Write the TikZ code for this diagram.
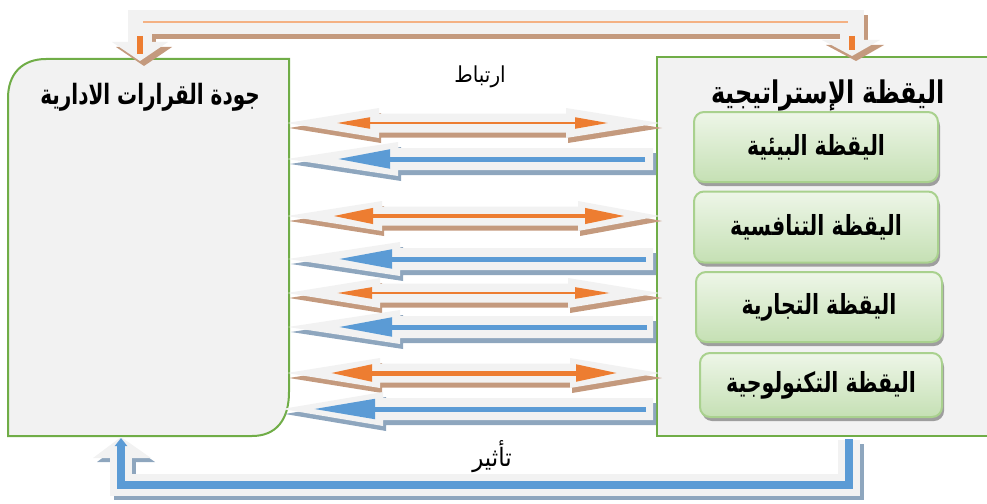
\documentclass[tikz,border=0pt]{standalone}
\usepackage{fontspec}
\usepackage{graphicx}
\newfontfamily\arabicfont[Script=Arabic]{DejaVu Sans}
\TeXXeTstate=1
\usetikzlibrary{shadows,arrows.meta}
\definecolor{boxfill}{HTML}{F2F2F2}
\definecolor{grn}{HTML}{70AD47}
\definecolor{lgrn}{HTML}{A9D18E}
\definecolor{gtop}{HTML}{EEF6E8}
\definecolor{gbot}{HTML}{C5E0B4}
\definecolor{org}{HTML}{ED7D31}
\definecolor{porg}{HTML}{F4B183}
\definecolor{blu}{HTML}{5B9BD5}
\definecolor{brn}{HTML}{C49A7E}
\definecolor{bgr}{HTML}{8EA6BE}
\definecolor{band}{HTML}{F2F2F2}
\newcommand\fatdbl[3]{%
  \fill[brn,shift={(2,5)}] (287,#1) -- (#2,#1-15) -- (#2,#1-9.5) -- (#3,#1-9.5) -- (#3,#1-15) -- (660,#1) -- (#3,#1+15) -- (#3,#1+9.5) -- (#2,#1+9.5) -- (#2,#1+15) -- cycle;
  \fill[band] (287,#1) -- (#2,#1-15) -- (#2,#1-9.5) -- (#3,#1-9.5) -- (#3,#1-15) -- (660,#1) -- (#3,#1+15) -- (#3,#1+9.5) -- (#2,#1+9.5) -- (#2,#1+15) -- cycle;}
\newcommand\fatlft[3]{%
  \fill[bgr,shift={(3,5)}] (#3,#1) -- (#2,#1-17) -- (#2,#1-11) -- (653,#1-11) -- (653,#1+11) -- (#2,#1+11) -- (#2,#1+17) -- cycle;
  \fill[band] (#3,#1) -- (#2,#1-17) -- (#2,#1-11) -- (653,#1-11) -- (653,#1+11) -- (#2,#1+11) -- (#2,#1+17) -- cycle;}
\tikzset{
  bigbox/.style={fill=boxfill, draw=grn, line width=2pt},
  greenbox/.style={draw=lgrn, line width=2pt, rounded corners=10pt, top color=gtop, bottom color=gbot,
    drop shadow={shadow xshift=2pt, shadow yshift=-4pt, fill=black!38, opacity=1},
    minimum width=244pt, minimum height=70pt, font=\arabicfont\bfseries\fontsize{20.5}{22}\selectfont},
  title/.style={font=\arabicfont\bfseries\fontsize{#1}{22}\selectfont},
  lbl/.style={font=\arabicfont\fontsize{#1}{22}\selectfont},
  oarr/.style={draw=org, line width=#1},
  barr/.style={draw=blu, line width=5pt}
}
\begin{document}
\begin{tikzpicture}[x=1pt,y=-1pt]
\useasboundingbox (0,0) rectangle (987,503);
% boxes
\draw[bigbox] (8,436) -- (8,98) .. controls (8,74) and (22,59) .. (46,59) -- (289,59) -- (289,392) .. controls (289,420) and (276,436) .. (252,436) -- cycle;
\draw[bigbox] (1000,57) -- (657,57) -- (657,436) -- (1000,436);
\node[title=20] (lt) at (150,97) {\scalebox{1}[1.4]{\beginR جودة القرارات الادارية\endR}};
\node[title=24] (rt) at (828,95) {\scalebox{1}[1.3]{\beginR اليقظة الإستراتيجية\endR}};
\node[greenbox] (g1) at (816,147) {\scalebox{1}[1.35]{\beginR اليقظة البيئية\endR}};
\node[greenbox, minimum height=71pt] (g2) at (816,227) {\scalebox{1}[1.35]{\beginR اليقظة التنافسية\endR}};
\node[greenbox, minimum width=246pt] (g3) at (819,307) {\scalebox{1}[1.35]{\beginR اليقظة التجارية\endR}};
\node[greenbox, minimum width=242pt, minimum height=64pt] (g4) at (821,385) {\scalebox{1}[1.35]{\beginR اليقظة التكنولوجية\endR}};
% top arrow
\begin{scope}[shift={(4,5)}]
  \draw[brn, line width=24pt] (140,44) -- (140,22) -- (852,22) -- (852,40);
  \fill[brn] (112,42) -- (168,42) -- (140,61) -- cycle;
  \fill[brn] (822,40) -- (880,40) -- (852,56) -- cycle;
\end{scope}
\draw[band, line width=24pt] (140,44) -- (140,22) -- (852,22) -- (852,40);
\fill[band] (112,42) -- (168,42) -- (140,61) -- cycle;
\fill[band] (822,40) -- (880,40) -- (852,56) -- cycle;
\coordinate (ta) at (140,54);
\coordinate (tb) at (852,50);
\draw[porg, line width=1.5pt] (143,22) -- (848,22);
\draw[org, line width=6pt] (140,36) -- (ta);
\draw[org, line width=6pt] (852,36) -- (tb);
\node[lbl=20] (lab1) at (480,77) {\scalebox{1}[1.1]{\beginR ارتباط\endR}};
% bottom arrow
\begin{scope}[shift={(4,4)}]
  \draw[bgr, line width=22pt] (121,458) -- (121,485) -- (849,485) -- (849,440);
  \fill[bgr] (93,458) -- (151,458) -- (121,437) -- cycle;
\end{scope}
\draw[band, line width=22pt] (121,458) -- (121,485) -- (849,485) -- (849,440);
\fill[band] (93,458) -- (151,458) -- (121,437) -- cycle;
\coordinate (ba) at (849,439);
\coordinate (bb) at (121,438);
\draw[blu, line width=8pt, -{Triangle[length=8pt,width=12pt]}] (ba) -- (849,485) -- (121,485) -- (bb);
\node[lbl=23] (lab2) at (492,457) {\scalebox{1}[1.1]{\beginR تأثير\endR}};
% middle arrows
\fatdbl{123}{379}{566}
\draw[oarr=2pt, {Triangle[length=33pt,width=11pt]}-{Triangle[length=33pt,width=11pt]}] (337,123) -- (608,123);
\fatlft{159}{398}{287}
\draw[barr, -{Triangle[length=53pt,width=18pt]}] (645,159) -- (337,159);
\fatdbl{216}{382}{578}
\draw[oarr=4pt, {Triangle[length=40pt,width=15pt]}-{Triangle[length=40pt,width=15pt]}] (333,216) -- (625,216);
\fatlft{259}{400}{288}
\draw[barr, -{Triangle[length=54pt,width=18pt]}] (646,259) -- (338,259);
\fatdbl{293}{380}{568}
\draw[oarr=2.5pt, {Triangle[length=35pt,width=11pt]}-{Triangle[length=35pt,width=11pt]}] (337,293) -- (610,293);
\fatlft{327}{400}{288}
\draw[barr, -{Triangle[length=54pt,width=18pt]}] (647,327) -- (338,327);
\fatdbl{373}{380}{570}
\draw[oarr=5pt, {Triangle[length=42pt,width=16pt]}-{Triangle[length=42pt,width=16pt]}] (330,373) -- (618,373);
\fatlft{409}{383}{282}
\draw[barr, -{Triangle[length=62pt,width=19pt]}] (646,409) -- (313,409);
\end{tikzpicture}
\end{document}
